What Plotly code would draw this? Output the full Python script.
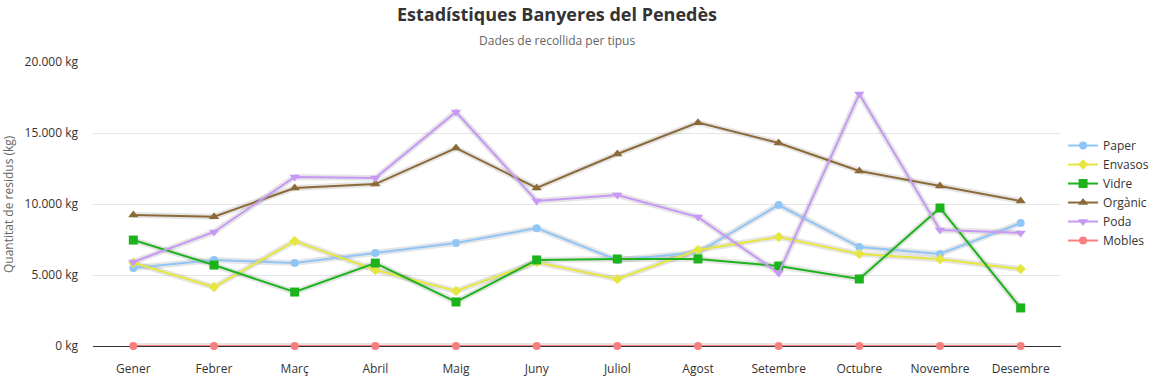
import plotly.graph_objects as go

months = ["Gener", "Febrer", "Març", "Abril", "Maig", "Juny", "Juliol", "Agost",
          "Setembre", "Octubre", "Novembre", "Desembre"]

paper = [5500, 6050, 5850, 6550, 7250, 8300, 6050, 6600, 9930, 6970, 6480, 8660]
envasos = [5860, 4150, 7390, 5350, 3870, 5900, 4720, 6760, 7680, 6480, 6110, 5420]
vidre = [7460, 5700, 3800, 5840, 3100, 6060, 6130, 6130, 5630, 4720, 9720, 2680]
organic = [9230, 9110, 11130, 11400, 13940, 11130, 13520, 15730, 14300, 12320, 11270, 10210]
poda = [5920, 8030, 11900, 11830, 16480, 10210, 10630, 9080, 5140, 17750, 8170, 7960]
mobles = [0, 0, 0, 0, 0, 0, 0, 0, 0, 0, 0, 0]

y_ticks = [0, 5000, 10000, 15000, 20000]
y_tick_text = ["0 kg", "5.000 kg", "10.000 kg", "15.000 kg", "20.000 kg"]

series = [
    ("Paper", paper, "#90c6f7", "circle", 8),
    ("Envasos", envasos, "#e6e640", "diamond", 8),
    ("Vidre", vidre, "#1db31d", "square", 9),
    ("Orgànic", organic, "#8b6a38", "triangle-up", 9),
    ("Poda", poda, "#c798f5", "triangle-down", 9),
    ("Mobles", mobles, "#f77f7f", "circle", 8),
]

fig = go.Figure()
for name, vals, color, sym, size in series:
    fig.add_trace(go.Scatter(
        x=months, y=vals, mode="lines", showlegend=False, hoverinfo="skip",
        line=dict(color="rgba(0,0,0,0.10)", width=6), cliponaxis=False,
    ))
for name, vals, color, sym, size in series:
    fig.add_trace(go.Scatter(
        x=months, y=vals, name=name, mode="lines+markers",
        line=dict(color=color, width=2), cliponaxis=False,
        marker=dict(symbol=sym, size=size, color=color),
    ))

fig.update_layout(
    width=1156, height=382,
    margin=dict(l=93, r=95, t=62, b=36, autoexpand=False),
    paper_bgcolor="white", plot_bgcolor="white",
    font=dict(family="Open Sans, sans-serif", size=12, color="#333333"),
    legend=dict(xref="container", yref="container", x=0.9196, xanchor="left",
                y=0.657, yanchor="top",
                font=dict(size=12, color="#333333"), tracegroupgap=0,
                itemwidth=30, borderwidth=0),
    showlegend=True,
    annotations=[
        dict(text="<b>Estadístiques Banyeres del Penedès</b>", xref="paper", yref="paper",
             x=0.479, y=1.0, yshift=62 - 14, xanchor="center", yanchor="middle",
             showarrow=False, font=dict(size=18, color="#333333")),
        dict(text="Dades de recollida per tipus", xref="paper", yref="paper",
             x=0.479, y=1.0, yshift=62 - 40, xanchor="center", yanchor="middle",
             showarrow=False, font=dict(size=12, color="#666666")),
        dict(text="Quantitat de residus (kg)", xref="paper", yref="paper",
             x=0, y=0.5, xshift=-(93 - 8), xanchor="center", yanchor="middle",
             textangle=-90, showarrow=False, font=dict(size=12, color="#666666")),
    ],
)
fig.update_xaxes(range=[-0.5, len(months) - 0.5], showgrid=False, showline=True,
                 linecolor="#333333", linewidth=1,
                 ticks="", tickfont=dict(size=12, color="#333333"),
                 ticklabelstandoff=12, automargin=False, layer="below traces")
fig.update_yaxes(range=[0, 20000], tickmode="array", tickvals=y_ticks, ticktext=y_tick_text,
                 showgrid=True, gridcolor="#e6e6e6", zeroline=False, automargin=False,
                 tickfont=dict(size=12, color="#333333"), ticklabelstandoff=14)

fig.write_html("out.html", config={"displayModeBar": False},
               post_script="document.body.style.margin='0';document.body.style.padding='0';")
